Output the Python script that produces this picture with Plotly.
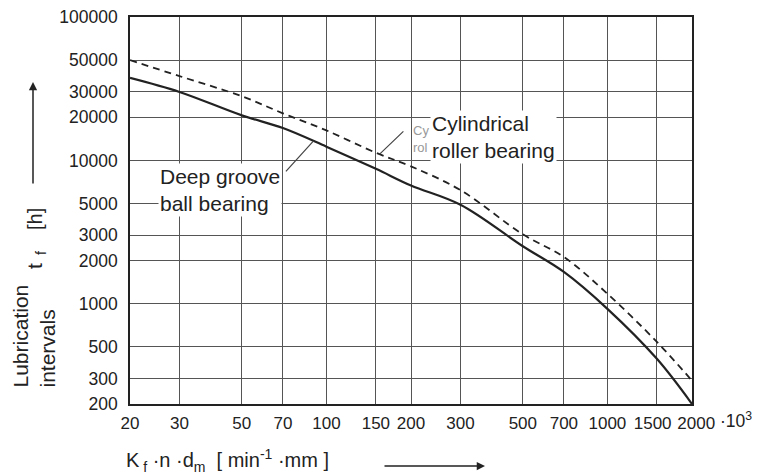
import plotly.graph_objects as go
import math

# ---- data ----
x_vals = [20, 30, 50, 70, 100, 150, 200, 300, 500, 700, 1000, 1500, 2000]
deep_groove = [37600, 30000, 20600, 16800, 12470, 8730, 6680, 4900, 2520, 1667, 922, 413, 200]
cylindrical = [50000, 38700, 28000, 21300, 16180, 11300, 9080, 6200, 3050, 2120, 1175, 542, 291]

x_ticks = [20, 30, 50, 70, 100, 150, 200, 300, 500, 700, 1000, 1500, 2000]
y_ticks = [200, 300, 500, 1000, 2000, 3000, 5000, 10000, 20000, 30000, 50000, 100000]

FONT = "Liberation Sans, Arial, sans-serif"
INK = "#222222"
GRID = "#555555"

fig = go.Figure()
fig.add_trace(go.Scatter(x=x_vals, y=cylindrical, mode="lines",
                         line=dict(color=INK, width=1.8, dash="7px,5px", shape="spline", smoothing=1.0),
                         showlegend=False, hoverinfo="skip"))
fig.add_trace(go.Scatter(x=x_vals, y=deep_groove, mode="lines",
                         line=dict(color=INK, width=2.2, shape="spline", smoothing=1.0),
                         showlegend=False, hoverinfo="skip"))

W, H = 765, 475
ML, MR, MT, MB = 130, 73, 17, 71
pw, ph = W - ML - MR, H - MT - MB

def px(xp):
    return (xp - ML) / pw

def py(yp):
    return (H - MB - yp) / ph

ann = []
# Deep groove label with leader
ann.append(dict(xref="x", yref="y", x=math.log10(90), y=math.log10(13700), ax=-29, ay=32,
                showarrow=True, arrowhead=0, arrowwidth=1.2, arrowcolor="#444", text=""))
ann.append(dict(xref="paper", yref="paper", x=px(219.5), y=py(189.5), xanchor="center", yanchor="middle",
                text="Deep groove<br>ball bearing", align="left", showarrow=False,
                font=dict(family=FONT, size=21, color=INK), bgcolor="white", borderpad=1))
# Cylindrical label with leader
ann.append(dict(xref="x", yref="y", x=math.log10(155), y=math.log10(11100), ax=25, ay=-24,
                showarrow=True, arrowhead=0, arrowwidth=1.2, arrowcolor="#444", text=""))
ann.append(dict(xref="paper", yref="paper", x=px(431), y=py(139), xanchor="right", yanchor="middle",
                text="Cy<br>rol", align="left", showarrow=False,
                font=dict(family=FONT, size=13, color="#999999")))
ann.append(dict(xref="paper", yref="paper", x=px(493.5), y=py(137), xanchor="center", yanchor="middle",
                text="Cylindrical<br>roller bearing", align="left", showarrow=False,
                font=dict(family=FONT, size=21, color=INK), bgcolor="white", borderpad=1))
# x multiplier
ann.append(dict(xref="paper", yref="paper", x=px(718), y=py(420), xanchor="left", yanchor="middle",
                text="·10<sup>3</sup>", showarrow=False, font=dict(family=FONT, size=17.5, color=INK)))
# x-axis title
ann.append(dict(xref="paper", yref="paper", x=px(124), y=py(460), xanchor="left", yanchor="middle",
                text="K<sub> f</sub> ·n ·d<sub>m</sub>  [ min<sup>-1</sup> ·mm ]", showarrow=False,
                font=dict(family=FONT, size=20, color=INK)))
# x arrow
ann.append(dict(xref="paper", yref="paper", x=px(485), y=py(466), ax=-102, ay=0, text="",
                showarrow=True, arrowhead=2, arrowsize=1.1, arrowwidth=1.5, arrowcolor=INK))
# y-axis title
ann.append(dict(xref="paper", yref="paper", x=px(33), y=py(390), xanchor="center", yanchor="bottom",
                text="Lubrication<br>intervals", textangle=-90, align="left", showarrow=False,
                font=dict(family=FONT, size=21, color=INK)))
ann.append(dict(xref="paper", yref="paper", x=px(36), y=py(260), xanchor="center", yanchor="middle",
                text="t<sub>  f</sub>", textangle=-90, showarrow=False,
                font=dict(family=FONT, size=21, color=INK)))
ann.append(dict(xref="paper", yref="paper", x=px(35), y=py(219), xanchor="center", yanchor="middle",
                text="[h]", textangle=-90, showarrow=False,
                font=dict(family=FONT, size=20, color=INK)))
# y arrow
ann.append(dict(xref="paper", yref="paper", x=px(33), y=py(82), ax=0, ay=103, text="",
                showarrow=True, arrowhead=2, arrowsize=1.1, arrowwidth=1.5, arrowcolor=INK))

fig.update_layout(
    template="none",
    width=W, height=H,
    margin=dict(l=ML, r=MR, t=MT, b=MB, autoexpand=False),
    paper_bgcolor="white", plot_bgcolor="white",
    font=dict(family=FONT, size=17, color=INK),
    annotations=ann,
    showlegend=False,
)

x_text = [str(v) for v in x_ticks]
x_text[-2] = x_text[-2] + "\u2002"
x_text[-1] = "\u2002" + x_text[-1]

axis_common = dict(type="log", tickmode="array", automargin=False,
                   showgrid=True, gridcolor=GRID, gridwidth=1.4,
                   showline=True, linecolor="#222", linewidth=1.6, mirror=True,
                   ticks="outside", tickcolor="white", zeroline=False)
fig.update_xaxes(range=[math.log10(20), math.log10(2000)],
                 tickvals=x_ticks, ticktext=x_text,
                 tickangle=0, ticklen=3, tickfont=dict(family=FONT, size=17, color=INK),
                 **axis_common)
fig.update_yaxes(range=[math.log10(200), math.log10(100000)],
                 tickvals=y_ticks, ticktext=[str(v) for v in y_ticks],
                 ticklen=7, tickfont=dict(family=FONT, size=17.5, color=INK),
                 **axis_common)

fig.write_html("out.html", config={"displayModeBar": False},
               post_script="document.body.style.margin='0';document.body.style.overflow='hidden';")
